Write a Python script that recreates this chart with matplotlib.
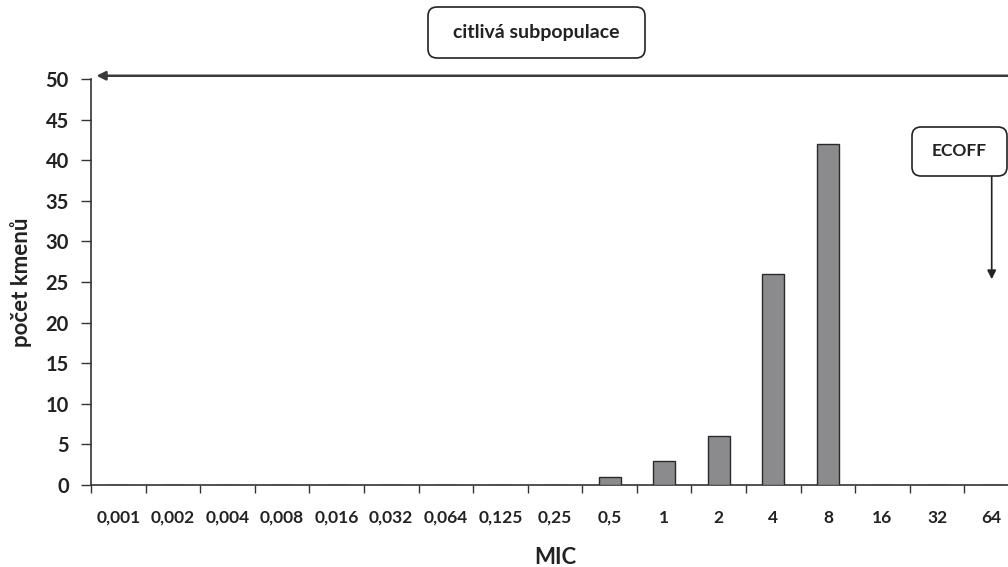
import matplotlib
matplotlib.use("Agg")
import matplotlib.pyplot as plt
from matplotlib.patches import FancyBboxPatch
import numpy as np

mic_labels = ["0,001", "0,002", "0,004", "0,008", "0,016", "0,032", "0,064", "0,125",
              "0,25", "0,5", "1", "2", "4", "8", "16", "32", "64"]
counts = [0, 0, 0, 0, 0, 0, 0, 0, 0, 1, 3, 6, 26, 42, 0, 0, 0]
y_ticks = [0, 5, 10, 15, 20, 25, 30, 35, 40, 45, 50]
ecoff_x = 16
ecoff_y = 25

plt.rcParams['font.family'] = ['Lato', 'DejaVu Sans']
plt.rcParams['font.weight'] = 'bold'

W, H = 10.08, 5.67
fig = plt.figure(figsize=(W, H), dpi=100)
# axis runs past the right edge, like the cropped original
ax = fig.add_axes([91/1008, (567-485)/567, 928/1008, (485-79)/567])

x = np.arange(len(mic_labels))
ax.bar(x, counts, width=0.4, color="#8b8b8e", edgecolor="#2a2a2a", linewidth=1.0, zorder=3)

ax.set_xlim(-0.5, len(mic_labels) - 0.5)
ax.set_ylim(0, 50)
ax.set_yticks(y_ticks)
ax.set_yticklabels([str(v) for v in y_ticks], fontsize=14.5, fontweight='bold', color="#222222")
ax.set_xticks(np.arange(-0.5, len(mic_labels), 1.0))
ax.set_xticklabels([])
ax.set_xticks(x, minor=True)
ax.set_xticklabels(mic_labels, minor=True, fontsize=12.5, fontweight='bold', color="#222222")
ax.tick_params(axis='x', which='major', length=6, width=1, color="#333333", direction='out')
ax.tick_params(axis='x', which='minor', length=0, pad=18)
ax.tick_params(axis='y', length=7, width=1, color="#333333", pad=9)

for s in ['top', 'right']:
    ax.spines[s].set_visible(False)
for s in ['left', 'bottom']:
    ax.spines[s].set_color("#333333")
    ax.spines[s].set_linewidth(1.2)

ax.set_ylabel("počet kmenů", fontsize=16, fontweight='bold', color="#222222", labelpad=10)
fig.text(555/1008, 1 - 564/567, "MIC", ha='center', va='baseline',
         fontsize=16, fontweight='bold', color="#222222")

# horizontal arrow along the top (citlivá subpopulace)
ax.annotate("", xy=(-0.45, 50.4), xytext=(17.5, 50.4), xycoords='data', textcoords='data',
            arrowprops=dict(arrowstyle="-|>", color="#3a3a3a", lw=1.8, mutation_scale=13),
            annotation_clip=False)

# ECOFF arrow
ax.annotate("", xy=(ecoff_x, ecoff_y), xytext=(ecoff_x, 38.3), xycoords='data',
            arrowprops=dict(arrowstyle="-|>", color="#222222", lw=1.2, mutation_scale=13),
            annotation_clip=False)

def box(x0, y0, x1, y1, text, fs):
    # pixel coordinates from the top-left corner
    p = FancyBboxPatch((x0/100, (567-y1)/100), (x1-x0)/100, (y1-y0)/100,
                       boxstyle="round,pad=0,rounding_size=0.09",
                       transform=fig.dpi_scale_trans, facecolor="white",
                       edgecolor="#222222", linewidth=1.2)
    fig.patches.append(p)
    fig.text(((x0+x1)/2)/1008, 1-((y0+y1)/2)/567, text, ha='center', va='center',
             fontsize=fs, fontweight='bold', color="#222222")

box(428, 7, 645, 58, "citlivá subpopulace", 14)
box(912, 127, 1007, 176, "ECOFF", 12.5)

fig.savefig("out.png", dpi=100)
